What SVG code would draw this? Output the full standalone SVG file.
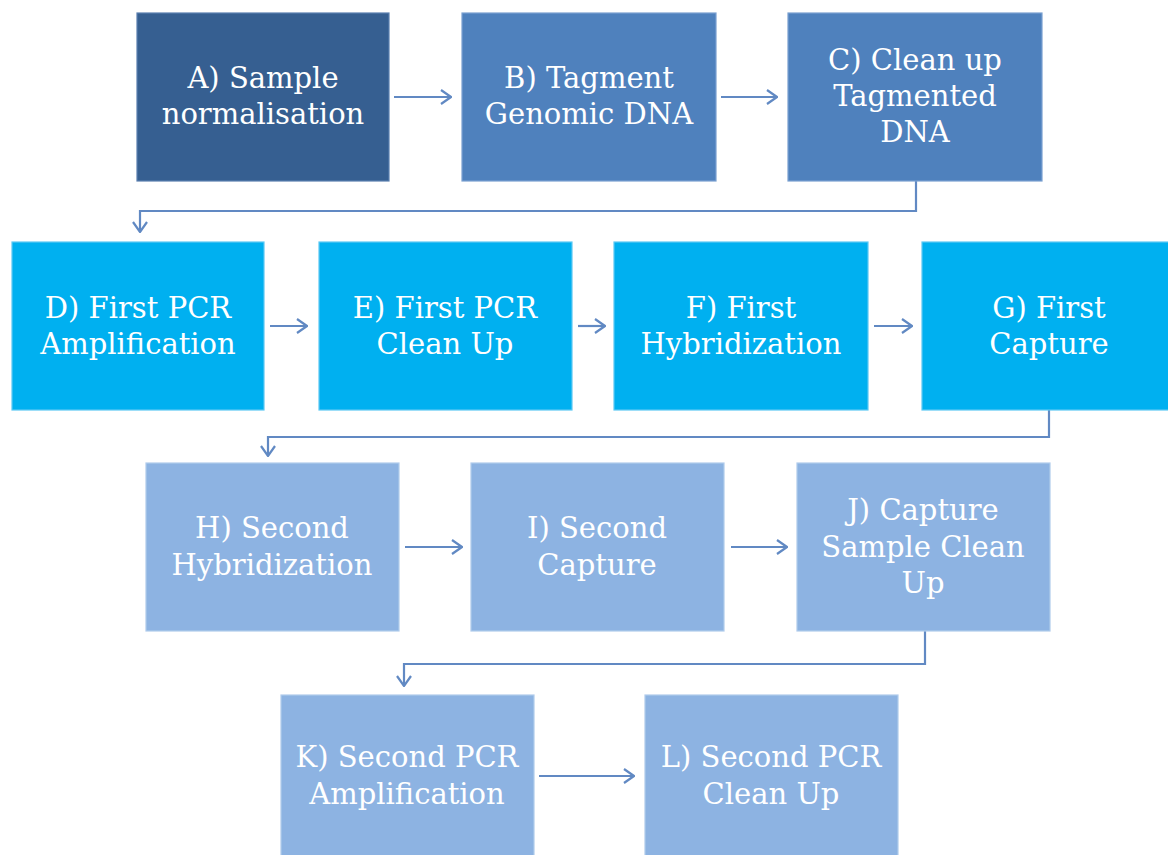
<svg xmlns="http://www.w3.org/2000/svg" width="1168" height="855" viewBox="0 0 1168 855">
<defs>
<style>
.box{stroke-width:1.2}
.dark{fill:#365F91;stroke:#5a7fb0}
.mid{fill:#4F81BD;stroke:#7aa0d0}
.cyan{fill:#00B0F0;stroke:#5cc9f4}
.light{fill:#8DB3E2;stroke:#b0cbec}
.t{font-family:"DejaVu Serif","Liberation Serif",serif;font-size:29px;fill:#ffffff;text-anchor:middle}
.c{fill:none;stroke:#6189c3;stroke-width:2.2}
</style>
<marker id="ah" viewBox="0 0 12 16" refX="11" refY="8" markerWidth="12" markerHeight="16" markerUnits="userSpaceOnUse" orient="auto">
<path d="M1,1 L11,8 L1,15" fill="none" stroke="#6189c3" stroke-width="2.2"/>
</marker>
</defs>
<rect width="1168" height="855" fill="#ffffff"/>
<g id="connectors">
<line class="c" x1="394" y1="97" x2="451" y2="97" marker-end="url(#ah)"/>
<line class="c" x1="721" y1="97" x2="777" y2="97" marker-end="url(#ah)"/>
<polyline class="c" points="916,181 916,211 140,211 140,232" marker-end="url(#ah)"/>
<line class="c" x1="270" y1="326" x2="307" y2="326" marker-end="url(#ah)"/>
<line class="c" x1="578" y1="326" x2="605" y2="326" marker-end="url(#ah)"/>
<line class="c" x1="874" y1="326" x2="912" y2="326" marker-end="url(#ah)"/>
<polyline class="c" points="1049,410 1049,437 268,437 268,456" marker-end="url(#ah)"/>
<line class="c" x1="405" y1="547" x2="462" y2="547" marker-end="url(#ah)"/>
<line class="c" x1="731" y1="547" x2="787" y2="547" marker-end="url(#ah)"/>
<polyline class="c" points="925,631 925,664 404,664 404,686" marker-end="url(#ah)"/>
<line class="c" x1="539" y1="776" x2="634" y2="776" marker-end="url(#ah)"/>
</g>
<g id="nodeA"><rect class="box dark" x="137" y="13" width="252" height="168"/><text class="t" x="263" y="88">A) Sample</text><text class="t" x="263" y="124">normalisation</text></g>
<g id="nodeB"><rect class="box mid" x="462" y="13" width="254" height="168"/><text class="t" x="589" y="88">B) Tagment</text><text class="t" x="589" y="124">Genomic DNA</text></g>
<g id="nodeC"><rect class="box mid" x="788" y="13" width="254" height="168"/><text class="t" x="915" y="70">C) Clean up</text><text class="t" x="915" y="106">Tagmented</text><text class="t" x="915" y="142">DNA</text></g>
<g id="nodeD"><rect class="box cyan" x="12" y="242" width="252" height="168"/><text class="t" x="138" y="318">D) First PCR</text><text class="t" x="138" y="354">Amplification</text></g>
<g id="nodeE"><rect class="box cyan" x="319" y="242" width="253" height="168"/><text class="t" x="445" y="318">E) First PCR</text><text class="t" x="445" y="354">Clean Up</text></g>
<g id="nodeF"><rect class="box cyan" x="614" y="242" width="254" height="168"/><text class="t" x="741" y="318">F) First</text><text class="t" x="741" y="354">Hybridization</text></g>
<g id="nodeG"><rect class="box cyan" x="922" y="242" width="254" height="168"/><text class="t" x="1049" y="318">G) First</text><text class="t" x="1049" y="354">Capture</text></g>
<g id="nodeH"><rect class="box light" x="146" y="463" width="253" height="168"/><text class="t" x="272" y="538">H) Second</text><text class="t" x="272" y="575">Hybridization</text></g>
<g id="nodeI"><rect class="box light" x="471" y="463" width="253" height="168"/><text class="t" x="597" y="538">I) Second</text><text class="t" x="597" y="575">Capture</text></g>
<g id="nodeJ"><rect class="box light" x="797" y="463" width="253" height="168"/><text class="t" x="923" y="520">J) Capture</text><text class="t" x="923" y="557">Sample Clean</text><text class="t" x="923" y="593">Up</text></g>
<g id="nodeK"><rect class="box light" x="281" y="695" width="253" height="168"/><text class="t" x="407" y="767">K) Second PCR</text><text class="t" x="407" y="804">Amplification</text></g>
<g id="nodeL"><rect class="box light" x="645" y="695" width="253" height="168"/><text class="t" x="771" y="767">L) Second PCR</text><text class="t" x="771" y="804">Clean Up</text></g>
</svg>
